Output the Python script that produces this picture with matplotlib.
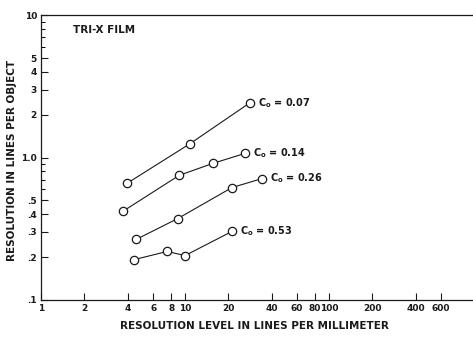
import matplotlib
matplotlib.use("Agg")
import matplotlib.pyplot as plt
from matplotlib.ticker import FixedLocator, NullLocator, NullFormatter

# Data (Tri-X film)
c_labels = ["0.07", "0.14", "0.26", "0.53"]
x_007 = [3.96, 10.8, 28.3]
y_007 = [0.66, 1.25, 2.43]
x_014 = [3.71, 9.1, 15.6, 26.1]
y_014 = [0.42, 0.75, 0.91, 1.07]
x_026 = [4.57, 8.9, 21.2, 34.3]
y_026 = [0.266, 0.373, 0.616, 0.712]
x_053 = [4.43, 7.5, 10.0, 21.2]
y_053 = [0.192, 0.219, 0.205, 0.303]

xticks = [1, 2, 4, 6, 8, 10, 20, 40, 60, 80, 100, 200, 400, 600]
xticklabels = ["1", "2", "4", "6", "8", "10", "20", "40", "60", "80", "100", "200", "400", "600"]
yticks = [0.1, 0.2, 0.3, 0.4, 0.5, 1.0, 2, 3, 4, 5, 10]
yticklabels = [".1", ".2", ".3", ".4", ".5", "1.0", "2", "3", "4", "5", "10"]
yminor = [0.6, 0.7, 0.8, 0.9, 6, 7, 8, 9]

plt.rcParams['font.family'] = ['DejaVu Sans']
plt.rcParams['font.weight'] = 'bold'
ink = '#1a1a1a'

fig = plt.figure(figsize=(4.73, 3.37), dpi=100)
ax = fig.add_axes([0.087, 0.11, 0.913, 0.845])
ax.set_xscale('log')
ax.set_yscale('log')
ax.set(xlim=(1, 1000), ylim=(0.1, 10))

series = [(x_007, y_007), (x_014, y_014), (x_026, y_026), (x_053, y_053)]
for (xs, ys), c in zip(series, c_labels):
    ax.plot(xs, ys, color=ink, lw=0.8, marker='o', ms=6,
            mfc='white', mec=ink, mew=0.9)
    ax.annotate("C$_\\mathbf{o}$ = " + c, (xs[-1], ys[-1]), xytext=(6, 0),
                textcoords='offset points', va='center', ha='left',
                fontsize=7, fontweight='bold', color=ink)

# Axes styling: inward ticks, no right spine
ax.spines['right'].set_visible(False)
for s in ['top', 'left', 'bottom']:
    ax.spines[s].set_linewidth(0.9)
    ax.spines[s].set_color(ink)

ax.xaxis.set_major_locator(FixedLocator(xticks))
ax.xaxis.set_minor_locator(NullLocator())
ax.set_xticklabels(xticklabels)
ax.yaxis.set_major_locator(FixedLocator(yticks))
ax.yaxis.set_minor_locator(FixedLocator(yminor))
ax.set_yticklabels(yticklabels)
ax.yaxis.set_minor_formatter(NullFormatter())

ax.tick_params(axis='both', which='major', direction='in', length=5, width=0.8,
               labelsize=6.5, colors=ink, pad=3)
ax.tick_params(axis='y', which='minor', direction='in', length=3, width=0.7)
ax.tick_params(top=False, right=False, which='both')

ax.text(0.074, 0.965, "TRI-X FILM", transform=ax.transAxes, fontsize=7.5,
        fontweight='bold', va='top', color=ink)

ax.set_xlabel("RESOLUTION LEVEL IN LINES PER MILLIMETER", fontsize=7.5,
              fontweight='bold', color=ink)
ax.xaxis.set_label_coords(0.495, -0.075)
ax.set_ylabel("RESOLUTION IN LINES PER OBJECT", fontsize=7.5,
              fontweight='bold', color=ink)
ax.yaxis.set_label_coords(-0.055, 0.49)

fig.savefig("out.png", dpi=100)
